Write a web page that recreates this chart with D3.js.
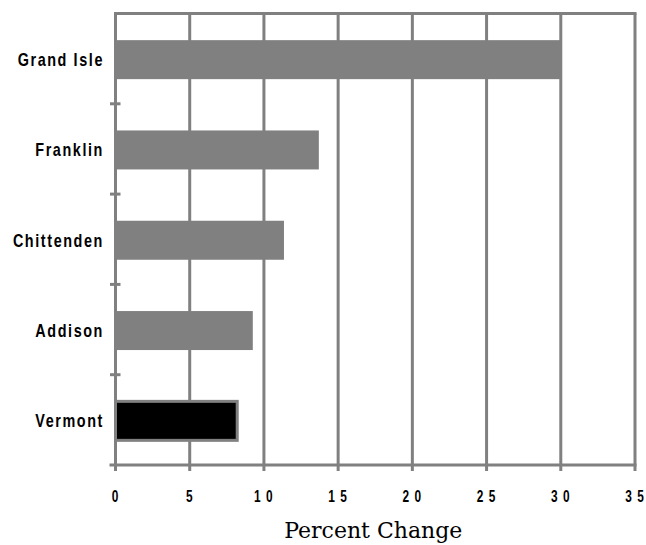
<!DOCTYPE html>
<html>
<head>
<meta charset="utf-8">
<script src="https://cdn.jsdelivr.net/npm/d3@7"></script>
<style>
  html, body { margin: 0; padding: 0; background: #fff; }
  svg { display: block; }
  .cat { font-family: "Liberation Sans", Arial, sans-serif; font-weight: bold; font-size: 18px; fill: #000; }
  .tick-label { font-family: "Liberation Sans", Arial, sans-serif; font-weight: bold; font-size: 16.5px; fill: #000; }
  .title { font-family: "DejaVu Serif", "Liberation Serif", serif; font-size: 22px; fill: #000; }
</style>
</head>
<body>
<svg id="chart" width="646" height="545"></svg>
<script>
const categories = ["Grand\u00a0Isle", "Franklin", "Chittenden", "Addison", "Vermont"];
const values = [30.0, 13.7, 11.35, 9.25, 8.2];
const tickValues = [0, 5, 10, 15, 20, 25, 30, 35];
const tickLabels = ["0", "5", "1 0", "1 5", "2 0", "2 5", "3 0", "3 5"];
const axisTitle = "Percent Change";

(function () {
const svg = d3.select("#chart");
const pL = 115.5, pR = 635, pT = 13.5, pB = 465;
const grey = "#808080";

const x = d3.scaleLinear().domain([0, 35]).range([pL, pR]);
const y = d3.scaleBand().domain(categories).range([pT, pB]).paddingInner(0).paddingOuter(0);

// gridlines
svg.append("g").selectAll("line").data(tickValues.slice(1)).join("line")
  .attr("x1", d => x(d)).attr("x2", d => x(d))
  .attr("y1", pT).attr("y2", pB)
  .attr("stroke", grey).attr("stroke-width", 3);

// top border
svg.append("line").attr("x1", pL - 1.5).attr("x2", pR + 1.5)
  .attr("y1", pT).attr("y2", pT).attr("stroke", grey).attr("stroke-width", 3);

// bars
const barH = 39;
svg.append("g").selectAll("rect").data(categories).join("rect")
  .attr("x", x(0))
  .attr("y", d => y(d) + y.bandwidth() / 2 - barH / 2 + 1)
  .attr("width", (d, i) => x(values[i]) - x(0))
  .attr("height", barH)
  .attr("fill", (d, i) => i === categories.length - 1 ? "#000" : grey)
  .attr("stroke", (d, i) => i === categories.length - 1 ? grey : "none")
  .attr("stroke-width", 3);

// left axis line
svg.append("line").attr("x1", pL).attr("x2", pL)
  .attr("y1", pT).attr("y2", pB + 6).attr("stroke", grey).attr("stroke-width", 3);

// left category boundary ticks
svg.append("g").selectAll("line").data(categories.slice(1)).join("line")
  .attr("x1", pL - 5.5).attr("x2", pL + 5)
  .attr("y1", d => y(d)).attr("y2", d => y(d))
  .attr("stroke", grey).attr("stroke-width", 3);

// bottom axis line
svg.append("line").attr("x1", pL - 6).attr("x2", pR + 1.5)
  .attr("y1", pB).attr("y2", pB).attr("stroke", grey).attr("stroke-width", 3);

// bottom ticks
svg.append("g").selectAll("line").data(tickValues).join("line")
  .attr("x1", d => x(d)).attr("x2", d => x(d))
  .attr("y1", pB).attr("y2", pB + 6)
  .attr("stroke", grey).attr("stroke-width", 3);

// tick labels (condensed)
svg.append("g").selectAll("text").data(tickValues).join("text")
  .attr("class", "tick-label")
  .attr("transform", d => `translate(${x(d)},502) scale(0.72,1)`)
  .attr("text-anchor", "middle")
  .attr("letter-spacing", 1.5)
  .text((d, i) => tickLabels[i]);

// category labels (condensed)
svg.append("g").selectAll("text").data(categories).join("text")
  .attr("class", "cat")
  .attr("transform", d => `translate(104,${y(d) + y.bandwidth() / 2 + 7.5}) scale(0.8,1)`)
  .attr("text-anchor", "end")
  .attr("letter-spacing", 2)
  .text(d => d);

// axis title
svg.append("text").attr("class", "title")
  .attr("x", (pL + pR) / 2 - 2).attr("y", 538)
  .attr("text-anchor", "middle")
  .text(axisTitle);
})();
</script>
</body>
</html>
